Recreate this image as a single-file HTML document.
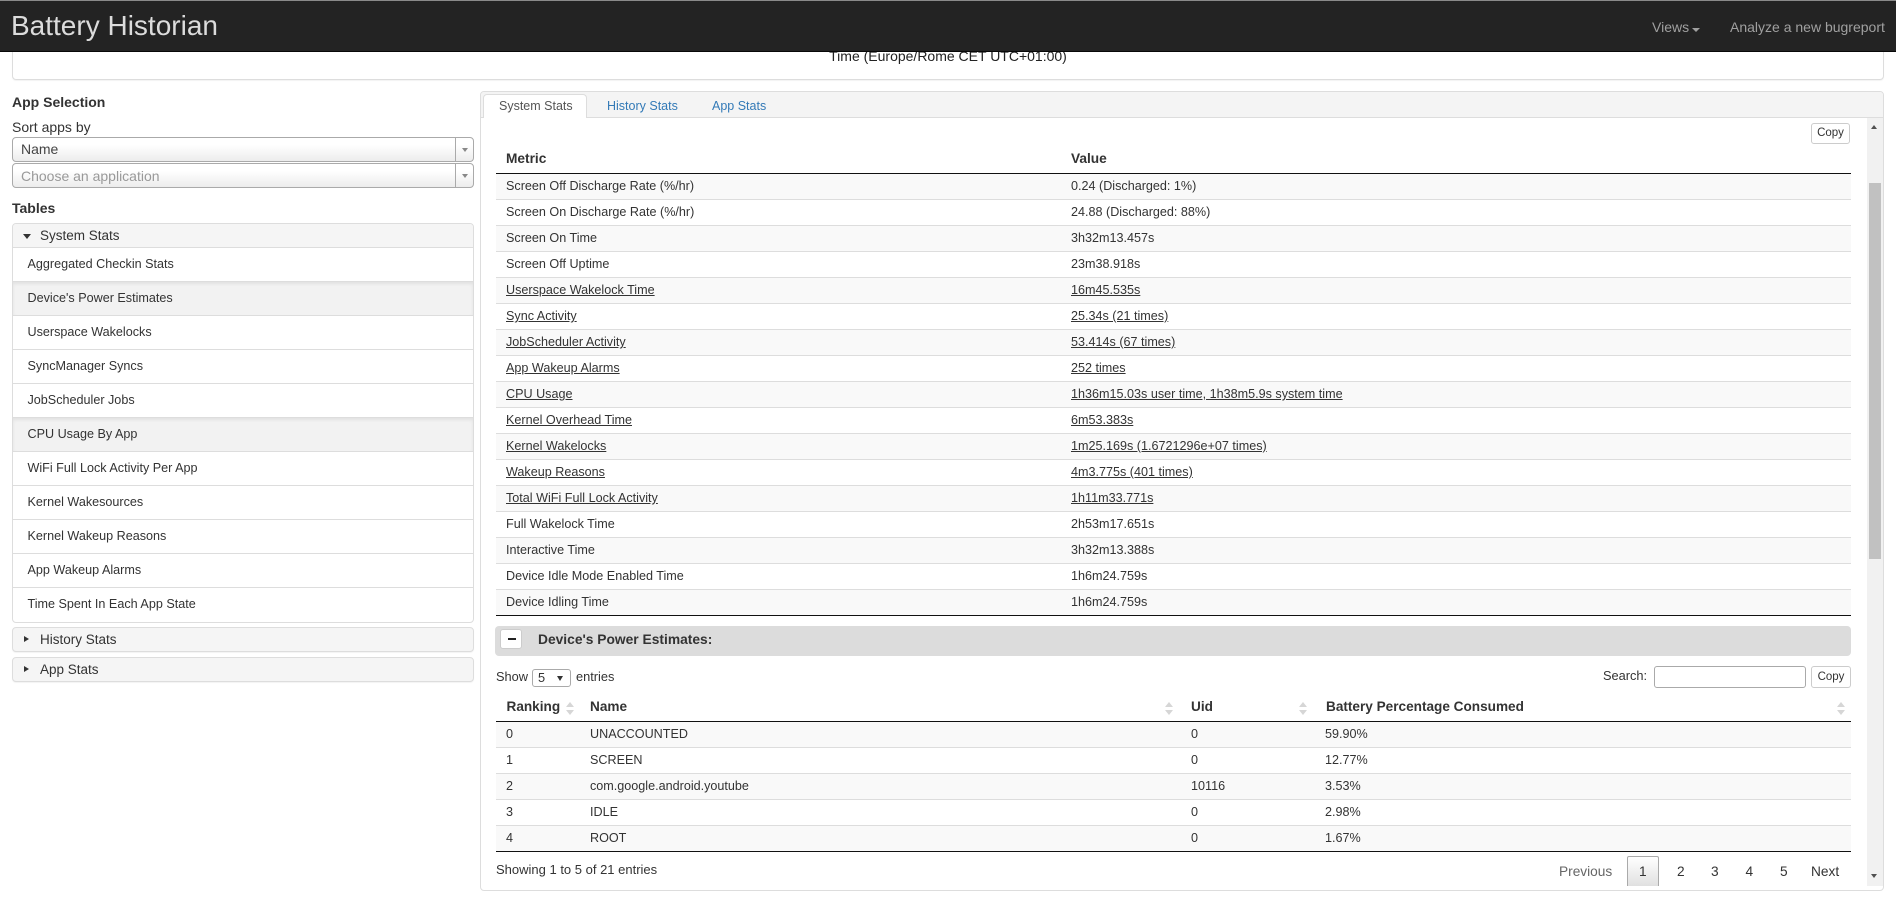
<!DOCTYPE html>
<html><head><meta charset="utf-8"><style>
*{box-sizing:border-box;}
body{margin:0;width:1896px;height:901px;overflow:hidden;background:#fff;font-family:"Liberation Sans",Arial,Helvetica,sans-serif;color:#333;position:relative;}
.a{position:absolute;white-space:nowrap;}
.t{position:absolute;white-space:nowrap;line-height:20px;}
.nav{position:absolute;left:0;top:0;width:1896px;height:52px;background:#232323;border-top:1px solid #8a8a8a;border-bottom:1px solid #080808;z-index:10;}
.sel{position:absolute;left:12px;width:462px;height:25px;border:1px solid #aaa;border-radius:4px;background:linear-gradient(#fff 30%,#ececec 100%);font-size:14px;line-height:23px;padding-left:8px;}
.sel .arr{position:absolute;right:0;top:0;width:18px;height:23px;border-left:1px solid #aaa;}
.sel .arr i{position:absolute;left:6px;top:10px;border-left:3px solid transparent;border-right:3px solid transparent;border-top:4px solid #888;}
.acc{position:absolute;left:12px;width:462px;border:1px solid #ddd;border-radius:4px;background:#fff;}
.acch{height:24px;background:#f5f5f5;border-bottom:1px solid #ddd;font-size:13.5px;line-height:23px;padding-left:27px;position:relative;border-radius:3px 3px 0 0;}
.item{height:34px;border-bottom:1px solid #ddd;font-size:12.6px;line-height:33px;padding-left:14.5px;}
.item:last-child{border-bottom:none;}
.item.hl{background:#f2f2f2;box-shadow:inset 0 2px 3px rgba(0,0,0,.07);}
.hdr{position:absolute;left:12px;width:462px;height:25px;border:1px solid #ddd;border-radius:4px;background:#f5f5f5;box-shadow:0 1px 1px rgba(0,0,0,.05);font-size:13.5px;line-height:23px;padding-left:27px;}
.hdr i{position:absolute;left:11px;top:8px;border-top:3.5px solid transparent;border-bottom:3.5px solid transparent;border-left:5px solid #333;}
.mrow{position:absolute;left:496px;width:1355px;height:26px;border-bottom:1px solid #ddd;line-height:24px;font-size:12.6px;}
.mrow.s{background:#f9f9f9;}
.mrow span{position:absolute;top:0;}
.mrow a{color:#333;text-decoration:underline;}
.c1{left:10px}.c2{left:575px}
.p1{left:10px}.p2{left:94px}.p3{left:695px}.p4{left:829px}
.btn{position:absolute;border:1px solid #ccc;border-radius:3px;background:#fff;font-size:11.5px;text-align:center;color:#333;}
.sort{position:absolute;width:9px;height:14px;}
.sort:before{content:"";position:absolute;left:0;top:0;border-left:4.5px solid transparent;border-right:4.5px solid transparent;border-bottom:5px solid #d6d6d6;}
.sort:after{content:"";position:absolute;left:0;top:8px;border-left:4.5px solid transparent;border-right:4.5px solid transparent;border-top:5px solid #d6d6d6;}
.b{font-weight:bold;}
</style></head><body>

<div class="nav">
  <div class="a" style="left:11px;top:-1px;line-height:51px;font-size:28px;color:#dcdcdc;">Battery Historian</div>
  <div class="t" style="left:1652px;top:16px;font-size:14px;color:#a0a0a0;">Views</div>
  <div class="a" style="left:1692px;top:27px;border-left:4px solid transparent;border-right:4px solid transparent;border-top:4px solid #a0a0a0;"></div>
  <div class="t" style="left:1730px;top:16px;font-size:14px;color:#a0a0a0;">Analyze a new bugreport</div>
</div>

<!-- time box -->
<div class="a" style="left:12px;top:20px;width:1872px;height:60px;border:1px solid #ddd;border-radius:4px;box-shadow:0 1px 1px rgba(0,0,0,.05);"></div>
<div class="t" style="left:0;top:46px;width:1896px;text-align:center;font-size:14px;color:#222;">Time (Europe/Rome CET UTC+01:00)</div>

<!-- left column -->
<div class="t b" style="left:12px;top:92px;font-size:14px;">App Selection</div>
<div class="t" style="left:12px;top:117px;font-size:14px;">Sort apps by</div>
<div class="sel" style="top:137px;color:#444;">Name<div class="arr"><i></i></div></div>
<div class="sel" style="top:163px;color:#999;line-height:25px;">Choose an application<div class="arr"><i></i></div></div>
<div class="t b" style="left:12px;top:198px;font-size:14px;">Tables</div>

<div class="acc" style="top:223px;">
  <div class="acch"><i style="position:absolute;left:10px;top:10px;border-left:4.5px solid transparent;border-right:4.5px solid transparent;border-top:5px solid #333;"></i>System Stats</div>
  <div class="item">Aggregated Checkin Stats</div>
  <div class="item hl">Device's Power Estimates</div>
  <div class="item">Userspace Wakelocks</div>
  <div class="item">SyncManager Syncs</div>
  <div class="item">JobScheduler Jobs</div>
  <div class="item hl">CPU Usage By App</div>
  <div class="item">WiFi Full Lock Activity Per App</div>
  <div class="item">Kernel Wakesources</div>
  <div class="item">Kernel Wakeup Reasons</div>
  <div class="item">App Wakeup Alarms</div>
  <div class="item">Time Spent In Each App State</div>
</div>
<div class="hdr" style="top:627px;"><i></i>History Stats</div>
<div class="hdr" style="top:657px;"><i></i>App Stats</div>

<!-- right panel -->
<div class="a" style="left:480px;top:91px;width:1404px;height:800px;border:1px solid #ddd;border-radius:4px;"></div>
<div class="a" style="left:481px;top:92px;width:1402px;height:26px;background:#f4f4f4;border-bottom:1px solid #ddd;border-radius:3px 3px 0 0;"></div>
<div class="a" style="left:483px;top:94px;width:104px;height:24px;background:#fff;border:1px solid #ddd;border-bottom:none;border-radius:4px 4px 0 0;"></div>
<div class="t" style="left:499px;top:95.5px;font-size:12.5px;color:#555;">System Stats</div>
<div class="t" style="left:607px;top:95.5px;font-size:12.5px;color:#337ab7;">History Stats</div>
<div class="t" style="left:712px;top:95.5px;font-size:12.5px;color:#337ab7;">App Stats</div>

<!-- scrollbar -->
<div class="a" style="left:1867px;top:118px;width:16px;height:768px;background:#f1f1f1;"></div>
<div class="a" style="left:1869px;top:183px;width:12px;height:376px;background:#c1c1c1;"></div>
<div class="a" style="left:1871px;top:125px;border-left:3.5px solid transparent;border-right:3.5px solid transparent;border-bottom:4px solid #505050;"></div>
<div class="a" style="left:1871px;top:874px;border-left:3.5px solid transparent;border-right:3.5px solid transparent;border-top:4px solid #505050;"></div>

<div class="btn" style="left:1811px;top:123px;width:39px;height:21px;line-height:19px;">Copy</div>

<!-- metric table -->
<div class="t b" style="left:506px;top:148.5px;font-size:13.7px;">Metric</div>
<div class="t b" style="left:1071px;top:148.5px;font-size:13.7px;">Value</div>
<div class="a" style="left:496px;top:173px;width:1355px;height:1px;background:#111;"></div>

<div class="mrow s" style="top:174px;"><span class="c1">Screen Off Discharge Rate (%/hr)</span><span class="c2">0.24 (Discharged: 1%)</span></div>
<div class="mrow" style="top:200px;"><span class="c1">Screen On Discharge Rate (%/hr)</span><span class="c2">24.88 (Discharged: 88%)</span></div>
<div class="mrow s" style="top:226px;"><span class="c1">Screen On Time</span><span class="c2">3h32m13.457s</span></div>
<div class="mrow" style="top:252px;"><span class="c1">Screen Off Uptime</span><span class="c2">23m38.918s</span></div>
<div class="mrow s" style="top:278px;"><span class="c1"><a>Userspace Wakelock Time</a></span><span class="c2"><a>16m45.535s</a></span></div>
<div class="mrow" style="top:304px;"><span class="c1"><a>Sync Activity</a></span><span class="c2"><a>25.34s (21 times)</a></span></div>
<div class="mrow s" style="top:330px;"><span class="c1"><a>JobScheduler Activity</a></span><span class="c2"><a>53.414s (67 times)</a></span></div>
<div class="mrow" style="top:356px;"><span class="c1"><a>App Wakeup Alarms</a></span><span class="c2"><a>252 times</a></span></div>
<div class="mrow s" style="top:382px;"><span class="c1"><a>CPU Usage</a></span><span class="c2"><a>1h36m15.03s user time, 1h38m5.9s system time</a></span></div>
<div class="mrow" style="top:408px;"><span class="c1"><a>Kernel Overhead Time</a></span><span class="c2"><a>6m53.383s</a></span></div>
<div class="mrow s" style="top:434px;"><span class="c1"><a>Kernel Wakelocks</a></span><span class="c2"><a>1m25.169s (1.6721296e+07 times)</a></span></div>
<div class="mrow" style="top:460px;"><span class="c1"><a>Wakeup Reasons</a></span><span class="c2"><a>4m3.775s (401 times)</a></span></div>
<div class="mrow s" style="top:486px;"><span class="c1"><a>Total WiFi Full Lock Activity</a></span><span class="c2"><a>1h11m33.771s</a></span></div>
<div class="mrow" style="top:512px;"><span class="c1">Full Wakelock Time</span><span class="c2">2h53m17.651s</span></div>
<div class="mrow s" style="top:538px;"><span class="c1">Interactive Time</span><span class="c2">3h32m13.388s</span></div>
<div class="mrow" style="top:564px;"><span class="c1">Device Idle Mode Enabled Time</span><span class="c2">1h6m24.759s</span></div>
<div class="mrow s" style="top:590px;border-bottom:1px solid #111;"><span class="c1">Device Idling Time</span><span class="c2">1h6m24.759s</span></div>

<!-- power estimates section -->
<div class="a" style="left:495px;top:626px;width:1356px;height:30px;background:#dcdcdc;border-radius:4px;"></div>
<div class="a" style="left:500px;top:629px;width:22px;height:20px;background:#fff;border:1px solid #ccc;border-radius:3px;"></div>
<div class="a" style="left:508px;top:638px;width:8px;height:2px;background:#222;"></div>
<div class="t b" style="left:538px;top:629.5px;font-size:13.8px;">Device's Power Estimates:</div>

<div class="t" style="left:496px;top:666.5px;font-size:12.8px;">Show</div>
<div class="a" style="left:532px;top:669px;width:39px;height:18px;border:1px solid #aaa;border-radius:3px;"></div>
<div class="t" style="left:538px;top:667.5px;font-size:12.8px;">5</div>
<div class="a" style="left:557px;top:676px;border-left:3px solid transparent;border-right:3px solid transparent;border-top:5px solid #333;"></div>
<div class="t" style="left:576px;top:666.5px;font-size:12.8px;">entries</div>

<div class="t" style="left:1603px;top:666px;font-size:12.8px;">Search:</div>
<div class="a" style="left:1654px;top:666px;width:152px;height:22px;border:1px solid #aaa;border-radius:3px;"></div>
<div class="btn" style="left:1811px;top:666px;width:40px;height:22px;line-height:20px;">Copy</div>

<div class="t b" style="left:506.5px;top:697px;font-size:13.6px;">Ranking</div>
<div class="sort" style="left:566px;top:702px;"></div>
<div class="t b" style="left:590px;top:697px;font-size:13.6px;">Name</div>
<div class="sort" style="left:1165px;top:702px;"></div>
<div class="t b" style="left:1191px;top:697px;font-size:13.6px;">Uid</div>
<div class="sort" style="left:1299px;top:702px;"></div>
<div class="t b" style="left:1326px;top:697px;font-size:13.6px;">Battery Percentage Consumed</div>
<div class="sort" style="left:1837px;top:702px;"></div>
<div class="a" style="left:496px;top:721px;width:1355px;height:1px;background:#111;"></div>

<div class="mrow s" style="top:722px;"><span class="p1">0</span><span class="p2">UNACCOUNTED</span><span class="p3">0</span><span class="p4">59.90%</span></div>
<div class="mrow" style="top:748px;"><span class="p1">1</span><span class="p2">SCREEN</span><span class="p3">0</span><span class="p4">12.77%</span></div>
<div class="mrow s" style="top:774px;"><span class="p1">2</span><span class="p2">com.google.android.youtube</span><span class="p3">10116</span><span class="p4">3.53%</span></div>
<div class="mrow" style="top:800px;"><span class="p1">3</span><span class="p2">IDLE</span><span class="p3">0</span><span class="p4">2.98%</span></div>
<div class="mrow s" style="top:826px;border-bottom:1px solid #111;"><span class="p1">4</span><span class="p2">ROOT</span><span class="p3">0</span><span class="p4">1.67%</span></div>

<div class="t" style="left:496px;top:860px;font-size:13px;">Showing 1 to 5 of 21 entries</div>
<div class="t" style="left:1559px;top:862px;font-size:13.7px;color:#666;">Previous</div>
<div class="a" style="left:1627px;top:856px;width:32px;height:30px;border:1px solid #aaa;border-bottom:none;border-radius:2px 2px 0 0;background:linear-gradient(#fff,#e0e0e0);"></div>
<div class="t" style="left:1639px;top:862px;font-size:13.7px;">1</div>
<div class="t" style="left:1677px;top:862px;font-size:13.7px;">2</div>
<div class="t" style="left:1711px;top:862px;font-size:13.7px;">3</div>
<div class="t" style="left:1745.5px;top:862px;font-size:13.7px;">4</div>
<div class="t" style="left:1780px;top:862px;font-size:13.7px;">5</div>
<div class="t" style="left:1811px;top:862px;font-size:13.7px;">Next</div>

</body></html>
